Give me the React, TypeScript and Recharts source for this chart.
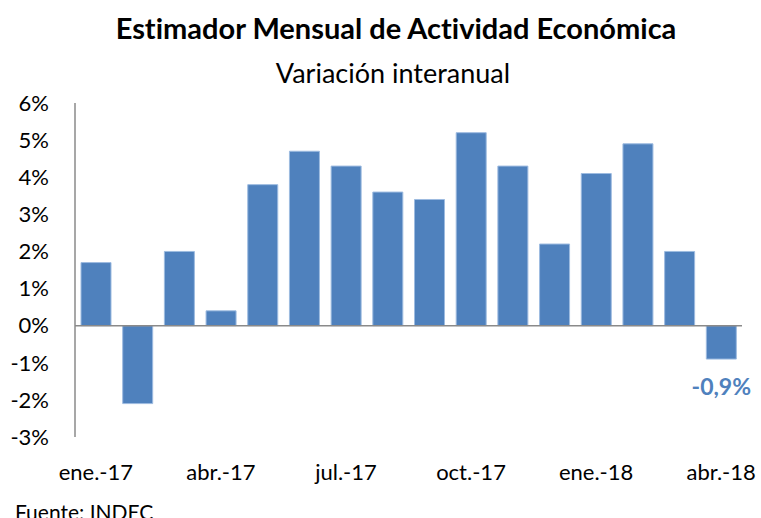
import React from 'react';
import { BarChart, Bar, XAxis, YAxis, ReferenceLine, LabelList } from 'recharts';

const months = [
  'ene.-17', 'feb.-17', 'mar.-17', 'abr.-17', 'may.-17', 'jun.-17', 'jul.-17', 'ago.-17',
  'sep.-17', 'oct.-17', 'nov.-17', 'dic.-17', 'ene.-18', 'feb.-18', 'mar.-18', 'abr.-18',
];
const variation = [1.7, -2.1, 2.0, 0.4, 3.8, 4.7, 4.3, 3.6, 3.4, 5.2, 4.3, 2.2, 4.1, 4.9, 2.0, -0.9];
const pointLabels = ['', '', '', '', '', '', '', '', '', '', '', '', '', '', '', '-0,9%'];
const yTicks = [-3, -2, -1, 0, 1, 2, 3, 4, 5, 6];

const FONT = 'Lato, "Open Sans", sans-serif';
const BLUE = '#4F81BD';
const AXIS = '#8a8a8a';
const noLig = { fontVariantLigatures: 'none' as const };

const data = months.map((m, i) => ({ month: m, value: variation[i], label: pointLabels[i] }));

const BottomLabel = (props: any) => {
  const { x, y, width, height, value } = props;
  if (!value) return null;
  const bottom = Math.max(y, y + height);
  return (
    <text
      x={x + width / 2}
      y={bottom + 30}
      textAnchor="middle"
      dominantBaseline="middle"
      fill={BLUE}
      fontFamily={FONT}
      fontWeight={700}
      fontSize={23}
    >
      {value}
    </text>
  );
};

export default function App() {
  return (
    <div
      style={{
        position: 'fixed',
        left: 0,
        top: 0,
        width: 761,
        height: 518,
        background: '#fff',
        overflow: 'hidden',
        fontFamily: FONT,
      }}
    >
      <svg width={761} height={518} style={{ position: 'absolute', left: 0, top: 0 }}>
        <text x={396} y={39} textAnchor="middle" fontFamily={FONT} fontWeight={700} fontSize={29} fill="#000" style={noLig}>
          Estimador Mensual de Actividad Económica
        </text>
        <text x={393} y={83} textAnchor="middle" fontFamily={FONT} fontSize={27} fill="#000" style={noLig}>
          Variación interanual
        </text>
        <text x={15} y={520} fontFamily={FONT} fontSize={21} fill="#000">
          Fuente: INDEC
        </text>
      </svg>
      <div style={{ position: 'absolute', left: 0, top: 0 }}>
        <BarChart
          width={761}
          height={518}
          data={data}
          margin={{ top: 103, right: 19, bottom: 41, left: 0 }}
        >
          <XAxis
            dataKey="month"
            interval={2}
            axisLine={false}
            tickLine={false}
            tickSize={0}
            tickMargin={27}
            height={40}
            tick={{ fill: '#000', fontSize: 22, fontFamily: FONT }}
          />
          <YAxis
            domain={[-3, 6]}
            ticks={yTicks}
            interval={0}
            tickFormatter={(v: number) => `${v}%`}
            width={75}
            axisLine={{ stroke: AXIS, strokeWidth: 1.5 }}
            tickLine={false}
            tickSize={0}
            tickMargin={26}
            tick={{ fill: '#000', fontSize: 22, fontFamily: FONT }}
          />
          <ReferenceLine y={0} stroke={AXIS} strokeWidth={1.5} />
          <Bar dataKey="value" fill={BLUE} stroke="#9dbbe0" strokeWidth={1} barSize={30} isAnimationActive={false}>
            <LabelList dataKey="label" content={BottomLabel} />
          </Bar>
        </BarChart>
      </div>
    </div>
  );
}
